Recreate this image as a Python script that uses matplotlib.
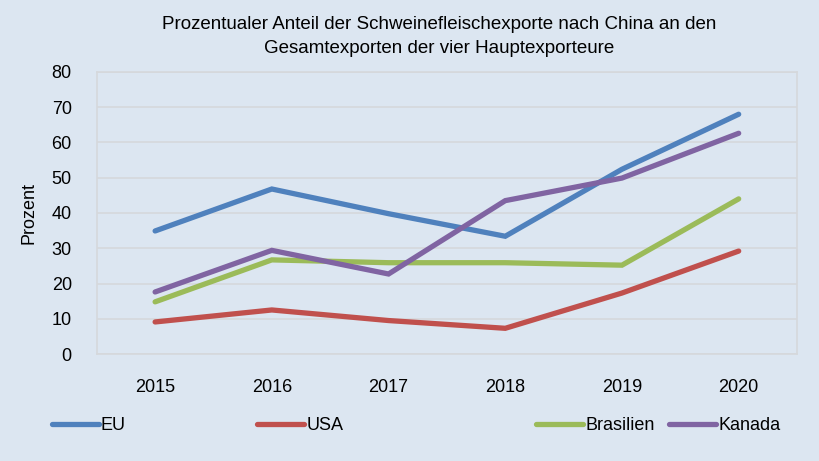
import matplotlib.pyplot as plt
from matplotlib.lines import Line2D

plt.rcParams['font.family'] = ['Liberation Sans', 'DejaVu Sans']

jahre = ['2015', '2016', '2017', '2018', '2019', '2020']
eu = [34.9, 46.8, 39.8, 33.4, 52.4, 68.0]
usa = [9.1, 12.5, 9.5, 7.3, 17.3, 29.2]
brasilien = [14.8, 26.7, 25.9, 25.9, 25.2, 44.0]
kanada = [17.6, 29.4, 22.7, 43.5, 49.9, 62.6]

namen = ['EU', 'USA', 'Brasilien', 'Kanada']
farben = ['#4f81bd', '#c0504d', '#9bbb59', '#8064a2']

bg = '#dce6f1'
fig = plt.figure(figsize=(8.2, 4.61), dpi=100, facecolor=bg)
ax = fig.add_axes([0.118, 0.232, 0.854, 0.612], facecolor=bg)

x = range(len(jahre))
for werte, farbe in zip([eu, usa, brasilien, kanada], farben):
    ax.plot(x, werte, color=farbe, lw=3.8, solid_capstyle='round', solid_joinstyle='miter')

ax.set_xlim(-0.5, 5.5)
ax.set_ylim(0, 80)
ax.set_yticks(range(0, 81, 10))
ax.set_xticks(list(x))
ax.set_xticklabels(jahre)
ax.grid(axis='y', color='#d5d8dc', lw=1.2)
ax.set_axisbelow(True)
for s in ax.spines.values():
    s.set_color('#d5d8dc')
    s.set_linewidth(1.2)
ax.tick_params(length=0, labelsize=13, colors='black')
ax.tick_params(axis='y', pad=18)
ax.tick_params(axis='x', pad=18)
ax.set_ylabel('Prozent', fontsize=13, labelpad=10)

fig.text(0.535, 0.92, 'Prozentualer Anteil der Schweinefleischexporte nach China an den\nGesamtexporten der vier Hauptexporteure',
         ha='center', va='center', fontsize=13.5, linespacing=1.55)

# legend entries placed individually (uneven spacing in reference)
pos = [0.063, 0.314, 0.654, 0.816]
for name, farbe, px in zip(namen, farben, pos):
    leg = fig.legend(handles=[Line2D([], [], color=farbe, lw=3.8, solid_capstyle='round')],
                     labels=[name], loc='center left', bbox_to_anchor=(px, 0.077),
                     frameon=False, fontsize=13, handlelength=2.6, handletextpad=0.12,
                     borderaxespad=0, borderpad=0)

fig.savefig('out.png', dpi=100, facecolor=bg)
